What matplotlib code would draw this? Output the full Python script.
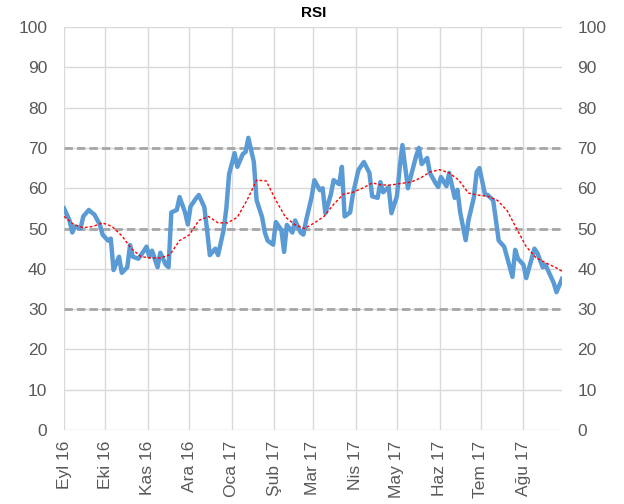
import numpy as np
import pandas as pd
import matplotlib
matplotlib.use("Agg")
import matplotlib.pyplot as plt

# RSI values, every second business day from 1 Sep 2016
rsi = [55, 52, 49, 50.5, 50, 53, 54.6, 54, 53.5, 51,
       48.5, 47, 47.5, 39.7, 43, 39, 40.4, 45.9, 43, 42.5,
       43.4, 45.5, 43, 44.5, 40.4, 44, 41, 40.4, 54, 54.6,
       57.8, 54, 51, 55.5, 57.5, 58.3, 55.3, 49.6, 43.4, 45,
       43.4, 49.6, 55, 63.5, 68.7, 65.3, 68.5, 69, 72.5, 66.5,
       57, 52.8, 49, 47, 46, 51.6, 49.6, 44.2, 50.9, 49,
       52, 49, 48.5, 52, 57.8, 62, 59.5, 60, 53.8, 58.5,
       62, 61, 65.3, 53, 54, 58.5, 64.5, 65.5, 66.5, 63.8,
       58, 57.6, 61.5, 59, 60.3, 53.8, 58, 65, 70.7, 60,
       62.8, 68, 70, 66, 67.5, 63.8, 61.3, 60.3, 62.8, 60.5,
       63.8, 57.6, 59.6, 54, 47.1, 52, 57.8, 64, 65, 58.5,
       58.3, 57, 52, 47, 45.5, 43, 38, 44.7, 42.5, 41,
       37.7, 42.5, 45, 44, 40.4, 41, 38, 36.5, 34.2, 37.5]

# moving average, weekly
ma = [53, 51, 50.2, 50.5, 51.4, 50.5, 48.2, 45, 43, 42.7,
      42.7, 43.5, 47, 48.4, 52, 53, 51.4, 51.4, 52.8, 57,
      62, 61.8, 57, 52.8, 50.9, 50, 51.4, 53, 56, 58.5,
      59, 60, 61.3, 60.8, 60.8, 61.2, 61.5, 62.5, 64, 64.6,
      63.8, 62, 58.8, 58.3, 58, 57, 54.5, 50, 45.5, 42.8,
      41.5, 40.4, 39.4]

months = ["Eyl 16", "Eki 16", "Kas 16", "Ara 16", "Oca 17", "Şub 17",
          "Mar 17", "Nis 17", "May 17", "Haz 17", "Tem 17", "Ağu 17"]
levels = [30, 50, 70]

rsi_dates = pd.bdate_range("2016-09-01", periods=len(rsi), freq="2B")
ma_dates = pd.date_range("2016-09-01", periods=len(ma), freq="7D")
ma_dates = ma_dates.where(ma_dates <= rsi_dates[-1], rsi_dates[-1])
month_dates = pd.date_range("2016-09-01", periods=len(months), freq="MS")

plt.rcParams['font.family'] = ['Liberation Sans', 'DejaVu Sans']
grey = '#595959'

fig = plt.figure(figsize=(6.24, 5.04), dpi=100)
ax = fig.add_axes([0.1026, 0.1468, 0.7980, 0.7996])

for lv in levels:
    ax.axhline(lv, color='#a6a6a6', lw=2, ls=(0, (3, 1.5)), zorder=2)

ax.plot(rsi_dates, rsi, color='#5b9bd5', lw=3.2, zorder=3, solid_joinstyle='round')
ax.plot(ma_dates, ma, color='#ff0000', lw=1, ls=(0, (2, 1.5)), zorder=4)

ax.set_xlim(pd.Timestamp("2016-09-01"), rsi_dates[-1])
ax.set_ylim(0, 100)
ax.set_yticks(np.arange(0, 101, 10))
ax.set_xticks(month_dates)
ax.set_xticklabels(months, rotation=90)
ax.grid(True, color='#d9d9d9', lw=1, zorder=0)
ax.set_axisbelow(True)
for s in ax.spines.values():
    s.set_visible(False)
ax.tick_params(length=0, colors=grey, labelsize=12.5)
ax.tick_params(axis='y', pad=12)
ax.tick_params(axis='x', pad=8)

ax2 = ax.twinx()
ax2.set_ylim(0, 100)
ax2.set_yticks(np.arange(0, 101, 10))
for s in ax2.spines.values():
    s.set_visible(False)
ax2.tick_params(length=0, colors=grey, labelsize=12.5, pad=11)

fig.text(0.502, 0.975, "RSI", ha='center', va='center', fontsize=11, fontweight='bold')

fig.savefig("out.png", dpi=100)
